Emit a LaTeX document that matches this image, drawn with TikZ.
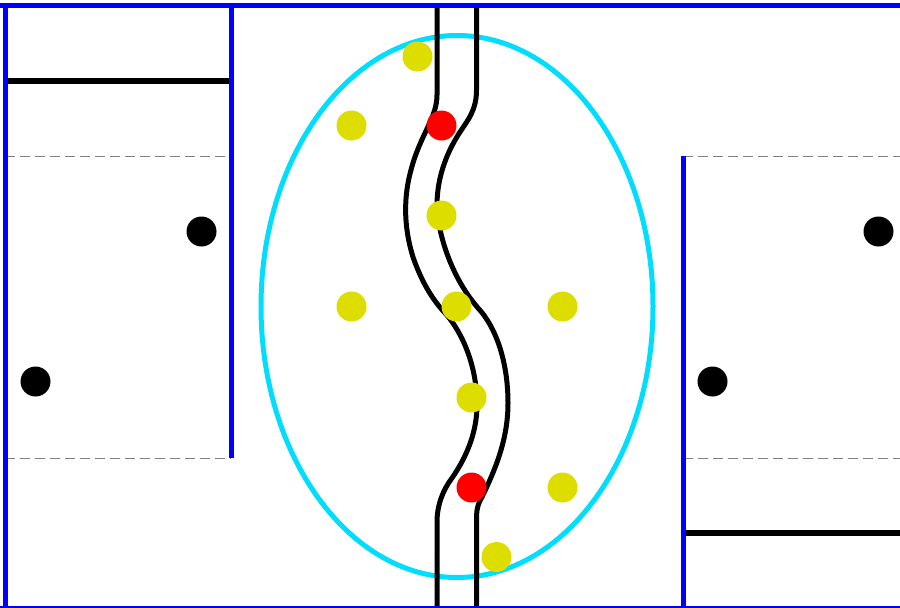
\documentclass[tikz,border=0pt]{standalone}
\usepackage{xcolor}
\definecolor{wallblue}{HTML}{0000FF}
\definecolor{rimcyan}{HTML}{00DDFF}
\definecolor{dotyellow}{HTML}{DDDD00}
\definecolor{dotred}{HTML}{FF0000}

\begin{document}
\begin{tikzpicture}[x=1pt, y=-1pt,
  wall/.style={draw=wallblue, line width=5pt},
  bar/.style={draw=black, line width=5.5pt},
  limit/.style={draw=black!50, line width=1pt, dash pattern=on 10pt off 5pt},
  strand/.style={draw=black, line width=5pt, line join=round},
  rim/.style={draw=rimcyan, line width=5pt},
  dot/.style={circle, inner sep=0pt, minimum size=30pt},
  blackdot/.style={dot, fill=black},
  yellowdot/.style={dot, fill=dotyellow},
  reddot/.style={dot, fill=dotred}]

\useasboundingbox (0,0) rectangle (900,608);

\draw[rim] (457,306.5) ellipse [x radius=196pt, y radius=271pt];

\draw[limit] (5,156.5)--(231,156.5); \draw[limit] (5,458)--(231,458);
\draw[limit] (683,156.5)--(900,156.5); \draw[limit] (683,458)--(900,458);

\draw[bar] (5,81)--(229,81);
\draw[bar] (685,533)--(900,533);

\draw[strand] (437,6)--(437,95) .. controls (437,118) and (420,135) .. (411,170)
  .. controls (404,195) and (403,225) .. (413,257)
  .. controls (421,280) and (431,298) .. (445,313)
  .. controls (458,327) and (477,360) .. (477,405)
  .. controls (477,430) and (468,455) .. (452,478)
  .. controls (443,490) and (437,505) .. (437,522)--(437,606);
\draw[strand] (476.5,6)--(476.5,90) .. controls (476.5,110) and (468,120) .. (460,132)
  .. controls (445,155) and (437,180) .. (437,205)
  .. controls (437,225) and (447,272) .. (478,308)
  .. controls (495,326) and (508,360) .. (508,403)
  .. controls (508,440) and (495,470) .. (482,497)
  .. controls (478,504) and (476.5,508) .. (476.5,520)--(476.5,606);

\draw[wall] (0,5.5)--(900,5.5);
\draw[wall] (5.5,3)--(5.5,608);
\draw[wall] (231,3)--(231,458);
\draw[wall] (683,156)--(683,608);
\draw[wall] (0,608)--(900,608);

\node[blackdot] at (201.5,231.5) (bl1) {};
\node[blackdot] at (35.5,381.5) (bl2) {};
\node[blackdot] at (878.5,231.5) (bl3) {};
\node[blackdot] at (712.5,381.5) (bl4) {};

\node[yellowdot] at (417.5,56.5) (ye1) {};
\node[yellowdot] at (351.5,125.5) (ye2) {};
\node[yellowdot] at (441.5,215.5) (ye3) {};
\node[yellowdot] at (351.5,306.5) (ye4) {};
\node[yellowdot] at (456.5,306.5) (ye5) {};
\node[yellowdot] at (562.5,306.5) (ye6) {};
\node[yellowdot] at (471.5,397.5) (ye7) {};
\node[yellowdot] at (562.5,487.5) (ye8) {};
\node[yellowdot] at (496.5,557) (ye9) {};

\node[reddot] at (441.5,125.5) (re1) {};
\node[reddot] at (471.5,487.5) (re2) {};
\end{tikzpicture}
\end{document}
